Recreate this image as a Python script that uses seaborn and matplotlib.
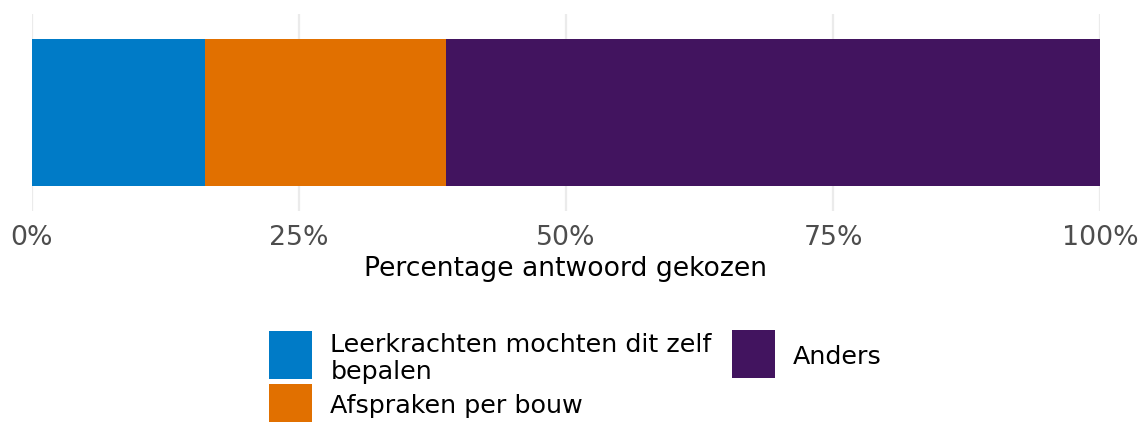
import pandas as pd
import numpy as np
import matplotlib.pyplot as plt
import seaborn as sns
from matplotlib.patches import Patch, Rectangle
from matplotlib.legend_handler import HandlerPatch
from matplotlib.ticker import PercentFormatter

# Data
answers = ['Leerkrachten mochten dit zelf\nbepalen', 'Afspraken per bouw', 'Anders']
shares = [0.162, 0.226, 0.612]
colors = ['#007BC7', '#E17000', '#42145F']

sns.set_theme(style='white')
plt.rcParams['font.family'] = ['DejaVu Sans']

df = pd.DataFrame({'answer': answers, 'share': shares})
df['cum'] = df['share'].cumsum()
df['row'] = ''

fig = plt.figure(figsize=(11.4, 4.22), dpi=100)
ax = fig.add_axes([32 / 1140, 0.5, 1068 / 1140, 197 / 422])

# stacked bar: draw cumulative bars from the back to the front
for i in reversed(range(len(df))):
    sns.barplot(data=df.iloc[[i]], x='cum', y='row', color=colors[i],
                width=0.9, saturation=1, linewidth=0, ax=ax, zorder=2)

ax.set_xlim(0, 1)
ax.set_ylim(0.6, -0.6)
ax.set_xticks([0, 0.25, 0.5, 0.75, 1.0])
ax.xaxis.set_major_formatter(PercentFormatter(1.0, decimals=0))
ax.grid(axis='x', color='#EBEBEB', linewidth=1.6, zorder=0)
ax.set_axisbelow(True)
for s in ax.spines.values():
    s.set_visible(False)
ax.set_yticks([])
ax.set_ylabel('')
ax.tick_params(axis='x', length=0, pad=10, labelsize=19.3, labelcolor='#4D4D4D')
ax.set_xlabel('Percentage antwoord gekozen', fontsize=19.2, color='black', labelpad=4)

# legend keys, ggplot style: (bottom, height) in points inside the handle box
key_box = {answers[0]: (-7.9, 34.6), answers[1]: (-7.2, 28.0), answers[2]: (-10.1, 34.6)}


def key_patch(legend, orig_handle, xdescent, ydescent, width, height, fontsize):
    y0, kh = key_box[orig_handle.get_label()]
    return Rectangle((-xdescent, y0), width, kh)


handles = [Patch(facecolor=c, edgecolor='none', label=a) for c, a in zip(colors, answers)]
leg_kw = dict(frameon=False, fontsize=18.3, labelcolor='black',
              handlelength=1.69, handleheight=1.4, handletextpad=0.72,
              labelspacing=0.2, borderaxespad=0, borderpad=0,
              handler_map={Patch: HandlerPatch(patch_func=key_patch)})
leg1 = fig.legend(handles[:2], answers[:2], loc='upper left',
                  bbox_to_anchor=(269 / 1140, 0.212), **leg_kw)
leg2 = fig.legend(handles[2:], answers[2:], loc='upper left',
                  bbox_to_anchor=(732 / 1140, 0.192), **leg_kw)

fig.savefig('out.png', dpi=100)
